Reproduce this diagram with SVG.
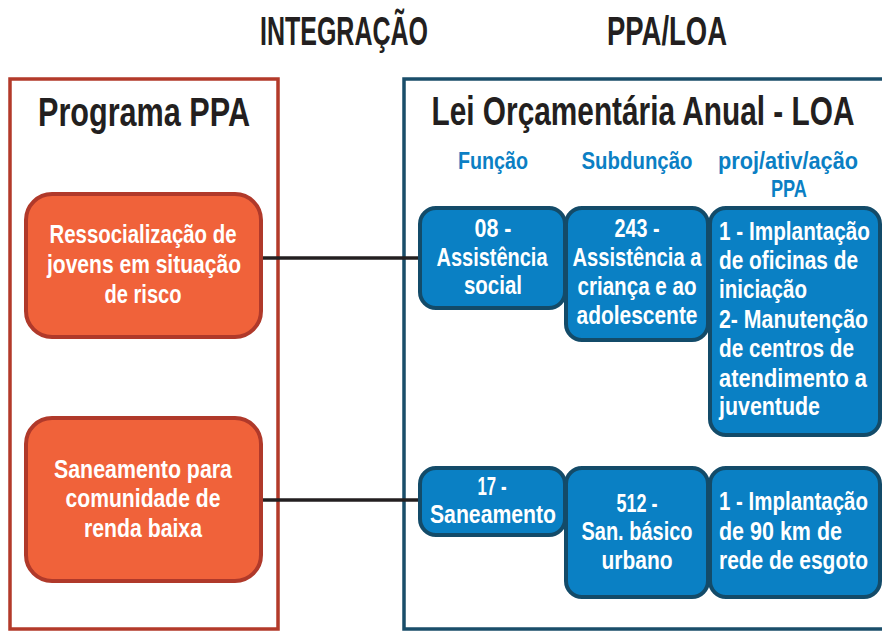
<svg xmlns="http://www.w3.org/2000/svg" width="882" height="631" viewBox="0 0 882 631">
<style>
text{font-family:"Liberation Sans","Noto Sans",sans-serif;font-weight:bold}
.title{fill:#231f20;font-size:41px;text-anchor:middle}
.head{fill:#231f20;font-size:40px;text-anchor:middle}
.col{fill:#0b7fc4;font-size:23px;text-anchor:middle}
.on{fill:#f0623a;stroke:#b0392a;stroke-width:4}
.bn{fill:#0a80c4;stroke:#134b69;stroke-width:4}
.wt{fill:#ffffff;font-size:25px}
.c{text-anchor:middle}
.conn{stroke:#231f20;stroke-width:3.5;fill:none}
</style>
<rect width="882" height="631" fill="#ffffff"/>
<rect id="ppa-frame" x="10" y="79" width="268" height="550" fill="none" stroke="#b33a2a" stroke-width="3.5"/>
<path id="loa-frame" d="M882 79 H404 V629 H882" fill="none" stroke="#1a4e6a" stroke-width="3.5"/>
<g id="labels" transform="scale(0.8 1)">
<text class="title" x="430" y="45" textLength="210" lengthAdjust="spacingAndGlyphs">INTEGRAÇÃO</text>
<text class="title" x="833.75" y="45" textLength="150" lengthAdjust="spacingAndGlyphs">PPA/LOA</text>
<text class="head" x="180" y="126" textLength="265" lengthAdjust="spacingAndGlyphs">Programa PPA</text>
<text class="col" x="616.25" y="169" textLength="87.5" lengthAdjust="spacingAndGlyphs">Função</text>
<text class="col" x="796.25" y="169" textLength="138.75" lengthAdjust="spacingAndGlyphs">Subdunção</text>
<text class="col" x="985" y="169" textLength="175" lengthAdjust="spacingAndGlyphs">proj/ativ/ação</text>
<text class="col" x="986.25" y="197" textLength="45" lengthAdjust="spacingAndGlyphs">PPA</text>
</g>
<g id="loa-title" transform="scale(0.7 1)">
<text class="head" x="918.57" y="125" textLength="604.29" lengthAdjust="spacingAndGlyphs">Lei Orçamentária Anual - LOA</text>
</g>
<g id="connectors">
<line class="conn" x1="260" y1="258" x2="421" y2="258"/>
<line class="conn" x1="260" y1="500" x2="421" y2="500"/>
</g>
<g id="n-ressoc">
<rect class="on" x="26" y="194" width="235" height="143" rx="26"/>
<g transform="scale(0.8 1)">
<text class="wt c" x="178.75" y="243" textLength="233.75" lengthAdjust="spacingAndGlyphs">Ressocialização de</text>
<text class="wt c" x="180" y="273" textLength="242.5" lengthAdjust="spacingAndGlyphs">jovens em situação</text>
<text class="wt c" x="178.75" y="303" textLength="96.25" lengthAdjust="spacingAndGlyphs">de risco</text>
</g>
</g>
<g id="n-saneam">
<rect class="on" x="26" y="418" width="235" height="163" rx="26"/>
<g transform="scale(0.8 1)">
<text class="wt c" x="178.75" y="478" textLength="222.5" lengthAdjust="spacingAndGlyphs">Saneamento para</text>
<text class="wt c" x="178.75" y="507" textLength="193.75" lengthAdjust="spacingAndGlyphs">comunidade de</text>
<text class="wt c" x="178.75" y="537" textLength="147.5" lengthAdjust="spacingAndGlyphs">renda baixa</text>
</g>
</g>
<g id="n-08">
<rect class="bn" x="420" y="208" width="145" height="100" rx="16"/>
<g transform="scale(0.8 1)">
<text class="wt c" x="616.25" y="237" textLength="46.25" lengthAdjust="spacingAndGlyphs">08 -</text>
<text class="wt c" x="615" y="266" textLength="138.75" lengthAdjust="spacingAndGlyphs">Assistência</text>
<text class="wt c" x="616.25" y="294" textLength="72.5" lengthAdjust="spacingAndGlyphs">social</text>
</g>
</g>
<g id="n-243">
<rect class="bn" x="566" y="208" width="142" height="132" rx="16"/>
<g transform="scale(0.8 1)">
<text class="wt c" x="796.25" y="237" textLength="56.25" lengthAdjust="spacingAndGlyphs">243 -</text>
<text class="wt c" x="796.25" y="266" textLength="161.25" lengthAdjust="spacingAndGlyphs">Assistência a</text>
<text class="wt c" x="796.25" y="295" textLength="148.75" lengthAdjust="spacingAndGlyphs">criança e ao</text>
<text class="wt c" x="796.25" y="324" textLength="151.25" lengthAdjust="spacingAndGlyphs">adolescente</text>
</g>
</g>
<g id="n-proj1">
<rect class="bn" x="710" y="208" width="170" height="227" rx="16"/>
<g transform="scale(0.8 1)">
<text class="wt" x="898.75" y="240" textLength="188.75" lengthAdjust="spacingAndGlyphs">1 - Implantação</text>
<text class="wt" x="898.75" y="269" textLength="173.75" lengthAdjust="spacingAndGlyphs">de oficinas de</text>
<text class="wt" x="898.75" y="298" textLength="110" lengthAdjust="spacingAndGlyphs">iniciação</text>
<text class="wt" x="898.75" y="328" textLength="186.25" lengthAdjust="spacingAndGlyphs">2- Manutenção</text>
<text class="wt" x="898.75" y="357" textLength="168.75" lengthAdjust="spacingAndGlyphs">de centros de</text>
<text class="wt" x="898.75" y="387" textLength="185" lengthAdjust="spacingAndGlyphs">atendimento a</text>
<text class="wt" x="898.75" y="415" textLength="126.25" lengthAdjust="spacingAndGlyphs">juventude</text>
</g>
</g>
<g id="n-17">
<rect class="bn" x="420" y="468" width="145" height="67" rx="16"/>
<g transform="scale(0.8 1)">
<text class="wt c" x="615" y="495" textLength="36.25" lengthAdjust="spacingAndGlyphs">17 -</text>
<text class="wt c" x="616.25" y="523" textLength="157.5" lengthAdjust="spacingAndGlyphs">Saneamento</text>
</g>
</g>
<g id="n-512">
<rect class="bn" x="566" y="468" width="142" height="129" rx="16"/>
<g transform="scale(0.8 1)">
<text class="wt c" x="796.25" y="512" textLength="51.25" lengthAdjust="spacingAndGlyphs">512 -</text>
<text class="wt c" x="796.25" y="540" textLength="138.75" lengthAdjust="spacingAndGlyphs">San. básico</text>
<text class="wt c" x="796.25" y="569" textLength="88.75" lengthAdjust="spacingAndGlyphs">urbano</text>
</g>
</g>
<g id="n-proj2">
<rect class="bn" x="710" y="468" width="170" height="129" rx="16"/>
<g transform="scale(0.8 1)">
<text class="wt" x="898.75" y="510" textLength="186.25" lengthAdjust="spacingAndGlyphs">1 - Implantação</text>
<text class="wt" x="898.75" y="540" textLength="153.75" lengthAdjust="spacingAndGlyphs">de 90 km de</text>
<text class="wt" x="898.75" y="569" textLength="186.25" lengthAdjust="spacingAndGlyphs">rede de esgoto</text>
</g>
</g>
</svg>
